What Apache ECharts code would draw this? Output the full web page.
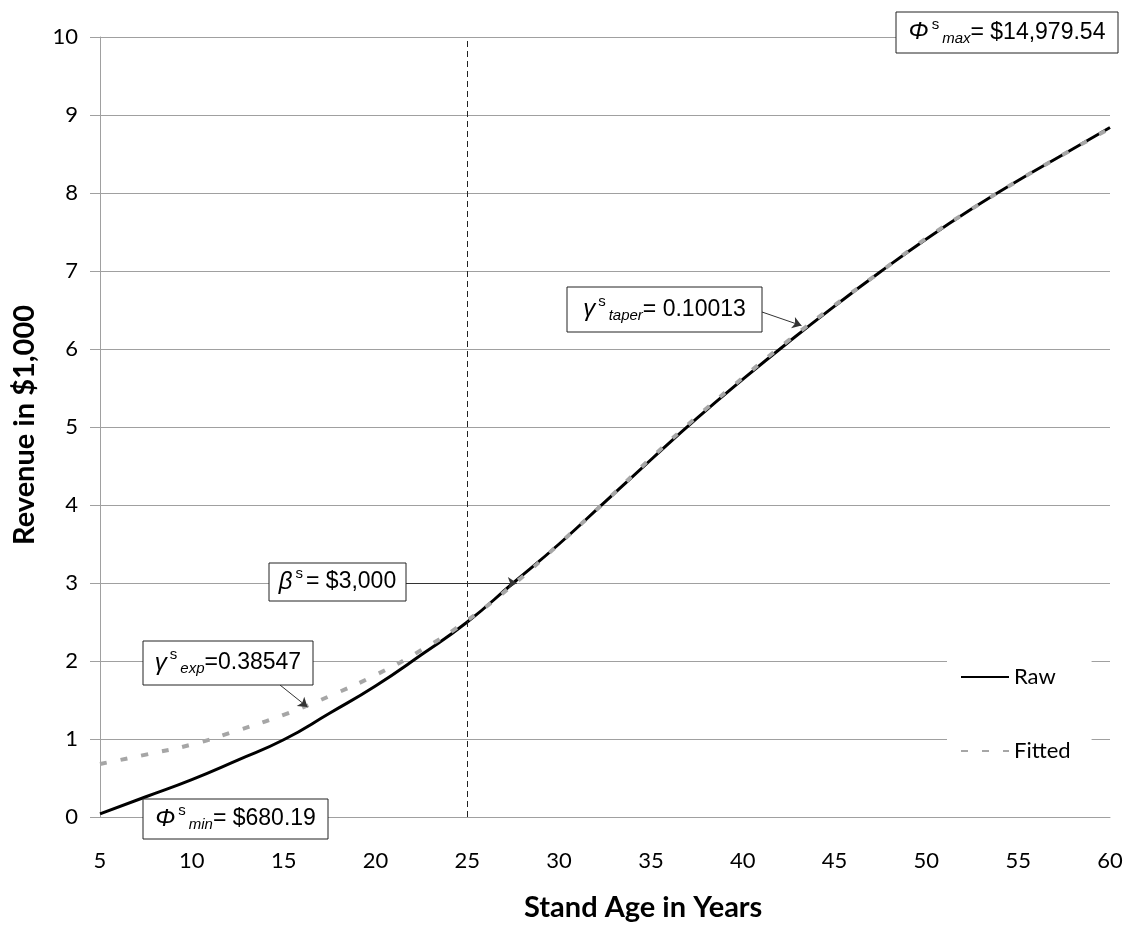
<!DOCTYPE html>
<html><head><meta charset="utf-8">
<script src="https://cdn.jsdelivr.net/npm/echarts@6/dist/echarts.min.js"></script>
<style>html,body{margin:0;padding:0;background:#fff}#c{width:1129px;height:935px}</style>
</head><body><div id="c"></div>
<script>
const ages = [5,7.5,10,12.5,15,17.5,20,22.5,25,27.5,30,32.5,35,37.5,40,42.5,45,47.5,50,52.5,55,57.5,60];
const raw = [0.04,0.26,0.48,0.73,0.99,1.33,1.68,2.08,2.5,3.0,3.5,4.04,4.58,5.11,5.61,6.09,6.55,6.99,7.41,7.8,8.16,8.5,8.84];
const fitted = [0.68,0.8,0.93,1.11,1.31,1.55,1.82,2.14,2.52,2.98,3.5,4.04,4.6,5.13,5.63,6.11,6.56,6.99,7.42,7.8,8.16,8.5,8.83];
const xTicks = [5,10,15,20,25,30,35,40,45,50,55,60];
const yTicks = [0,1,2,3,4,5,6,7,8,9,10];
const betaAge = 25;
const seriesNames = ['Raw','Fitted'];
// annotation arrow targets in data coords
const arrowBeta = [27.7, 3.0];
const arrowExp = [16.3, 1.41];
const arrowTaper = [43.2, 6.3];

const chart = echarts.init(document.getElementById('c'), null, {renderer:'canvas'});
const gridCol = '#a0a0a0';
const tickFont = 'Lato';
const annFont = 'Liberation Sans';

const rich = {
  g: {fontFamily: annFont, fontStyle: 'italic', fontSize: 24, color: '#000'},
  sup: {fontFamily: annFont, fontSize: 15, color: '#000', padding: [0, 3, 16, 3]},
  sub: {fontFamily: annFont, fontStyle: 'italic', fontSize: 15, color: '#000', padding: [12, 0, 0, 0]},
  t: {fontFamily: annFont, fontSize: 23, color: '#000'}
};
function box(x, y, w, h, text) {
  return {
    type: 'group', z: 100, zlevel: 0,
    children: [
      {type: 'rect', z: 100, shape: {x: x, y: y, width: w, height: h},
       style: {fill: '#fff', stroke: '#222', lineWidth: 1}},
      {type: 'text', z: 101, x: x + w / 2, y: y + h / 2,
       style: {text: text, rich: rich, align: 'center', verticalAlign: 'middle'}}
    ]
  };
}

chart.setOption({
  animation: false,
  backgroundColor: '#fff',
  grid: {left: 100, right: 19, top: 37, bottom: 118, containLabel: false},
  xAxis: {
    type: 'value', min: 5, max: 60, interval: 5,
    axisLine: {show: true, lineStyle: {color: gridCol, width: 1}},
    axisTick: {show: false},
    splitLine: {show: false},
    axisLabel: {fontFamily: tickFont, fontSize: 22, color: '#000', margin: 33,
      formatter: v => xTicks.includes(v) ? String(v) : ''}
  },
  yAxis: {
    type: 'value', min: 0, max: 10, interval: 1,
    axisLine: {show: true, lineStyle: {color: gridCol, width: 1}},
    axisTick: {show: true, length: 10, lineStyle: {color: gridCol}},
    splitLine: {show: true, lineStyle: {color: gridCol, width: 1}},
    axisLabel: {fontFamily: tickFont, fontSize: 22, color: '#000', margin: 22,
      formatter: v => yTicks.includes(v) ? String(v) : ''}
  },
  legend: {
    orient: 'vertical', left: 947, top: 646,
    padding: [20, 21, 20, 13], itemGap: 52, itemWidth: 48, itemHeight: 20,
    backgroundColor: '#fff',
    textStyle: {fontFamily: tickFont, fontSize: 22, color: '#000'},
    data: seriesNames
  },
  series: [
    {
      name: seriesNames[0], type: 'line', smooth: true, symbol: 'none',
      data: ages.map((a, i) => [a, raw[i]]),
      lineStyle: {color: '#000', width: 3}, itemStyle: {color: '#000', opacity: 0},
      z: 3,
      markLine: {
        silent: true, symbol: 'none', label: {show: false},
        lineStyle: {color: '#222', type: [6, 4], width: 1, opacity: 1},
        data: [{xAxis: betaAge}]
      }
    },
    {
      name: seriesNames[1], type: 'line', smooth: true, symbol: 'none',
      data: ages.map((a, i) => [a, fitted[i]]),
      lineStyle: {color: '#a6a6a6', width: 4, type: [7, 14], cap: 'butt'},
      itemStyle: {color: '#a6a6a6', opacity: 0},
      z: 4,
      markLine: {
        silent: true, symbol: ['none', 'arrow'], symbolSize: 9, label: {show: false},
        lineStyle: {color: '#333', type: 'solid', width: 1, opacity: 1},
        itemStyle: {color: '#333', opacity: 1},
        data: [
          [{x: 406, y: 583}, {coord: arrowBeta}],
          [{x: 280, y: 685}, {coord: arrowExp}],
          [{x: 762, y: 312}, {coord: arrowTaper}]
        ]
      }
    }
  ],
  graphic: [
    {type: 'text', left: 642 - 118, top: 893, z: 10,
     style: {text: 'Stand Age in Years', fontFamily: tickFont, fontWeight: 'bold', fontSize: 29, fill: '#000'}},
    {type: 'text', x: 10, y: 545, rotation: Math.PI / 2, z: 10,
     style: {text: 'Revenue in $1,000', fontFamily: tickFont, fontWeight: 'bold', fontSize: 29, fill: '#000'}},
    box(896, 12, 222, 41, '{g|Φ}{sup|s}{sub|max}{t|= $14,979.54}'),
    box(567, 287, 195, 45, '{g|γ}{sup|s}{sub|taper}{t|= 0.10013}'),
    box(269, 563, 137, 38, '{g|β}{sup|s}{t|= $3,000}'),
    box(143, 641, 170, 44, '{g|γ}{sup|s}{sub|exp}{t|=0.38547}'),
    box(143, 799, 185, 40, '{g|Φ}{sup|s}{sub|min}{t|= $680.19}')
  ]
});
</script></body></html>
